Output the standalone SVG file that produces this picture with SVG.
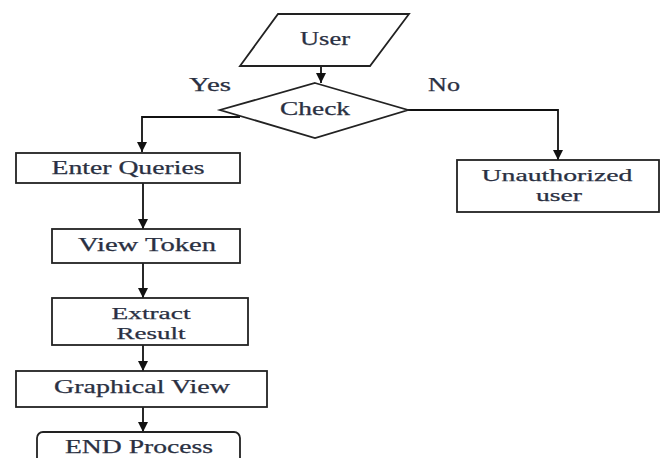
<svg xmlns="http://www.w3.org/2000/svg" width="661" height="458" viewBox="0 0 661 458">
<style>
.shape{fill:#fff;stroke:#222;stroke-width:1.8}
.line{fill:none;stroke:#111;stroke-width:1.8}
text{font-family:"Liberation Serif","Times New Roman",serif;font-size:18px;fill:#2a3042;stroke:#2a3042;stroke-width:0.25;text-anchor:middle}
text.sm{font-size:17px}
</style>
<defs>
<marker id="arr" viewBox="0 0 10 10" refX="10" refY="5" markerWidth="10" markerHeight="10" markerUnits="userSpaceOnUse" orient="auto">
<path d="M0,0 L10,5 L0,10 z" fill="#111"/>
</marker>
</defs>
<rect width="661" height="458" fill="#fff"/>
<g id="connectors">
<line class="line" x1="321" y1="66" x2="321" y2="83" marker-end="url(#arr)"/>
<polyline class="line" points="240,117 142,117 142,152" marker-end="url(#arr)"/>
<polyline class="line" points="408,110 558,110 558,160" marker-end="url(#arr)"/>
<line class="line" x1="143" y1="183" x2="143" y2="229" marker-end="url(#arr)"/>
<line class="line" x1="143" y1="263" x2="143" y2="298" marker-end="url(#arr)"/>
<line class="line" x1="143" y1="345" x2="143" y2="371" marker-end="url(#arr)"/>
<line class="line" x1="143" y1="407" x2="143" y2="432" marker-end="url(#arr)"/>
<text x="210" y="91" textLength="42" lengthAdjust="spacingAndGlyphs">Yes</text>
<text x="444" y="91" textLength="32" lengthAdjust="spacingAndGlyphs">No</text>
</g>
<g id="user">
<polygon class="shape" points="278,14 409,14 370,66 240,66"/>
<text x="325" y="45" textLength="50" lengthAdjust="spacingAndGlyphs">User</text>
</g>
<g id="check">
<polygon class="shape" points="315,83 408,110 315,138 220,110"/>
<text x="315" y="115" textLength="70" lengthAdjust="spacingAndGlyphs">Check</text>
</g>
<g id="enter-queries">
<rect class="shape" x="16" y="153" width="224" height="30"/>
<text x="128" y="174" textLength="153" lengthAdjust="spacingAndGlyphs">Enter Queries</text>
</g>
<g id="view-token">
<rect class="shape" x="52" y="229" width="188" height="34"/>
<text x="147" y="251" textLength="138" lengthAdjust="spacingAndGlyphs">View Token</text>
</g>
<g id="extract-result">
<rect class="shape" x="52" y="298" width="196" height="47"/>
<text class="sm" x="151" y="319" textLength="79" lengthAdjust="spacingAndGlyphs">Extract</text>
<text class="sm" x="151" y="339" textLength="69" lengthAdjust="spacingAndGlyphs">Result</text>
</g>
<g id="graphical-view">
<rect class="shape" x="16" y="371" width="251" height="36"/>
<text x="142" y="393" textLength="176" lengthAdjust="spacingAndGlyphs">Graphical View</text>
</g>
<g id="end-process">
<rect class="shape" x="37" y="432" width="203" height="40" rx="6"/>
<text x="139" y="453" textLength="148" lengthAdjust="spacingAndGlyphs">END Process</text>
</g>
<g id="unauthorized">
<rect class="shape" x="457" y="160" width="202" height="52"/>
<text class="sm" x="557" y="181" textLength="151" lengthAdjust="spacingAndGlyphs">Unauthorized</text>
<text class="sm" x="559" y="201" textLength="46" lengthAdjust="spacingAndGlyphs">user</text>
</g>
</svg>
